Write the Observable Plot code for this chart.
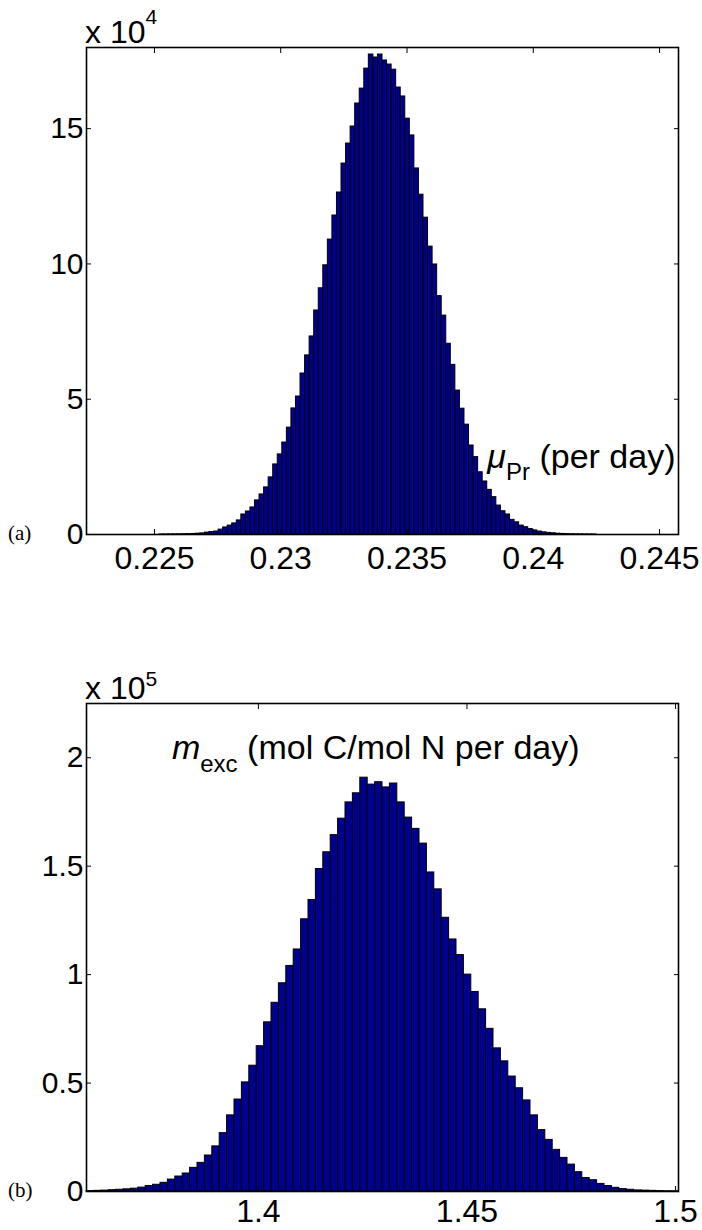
<!DOCTYPE html>
<html>
<head>
<meta charset="utf-8">
<script src="https://cdn.jsdelivr.net/npm/d3@7"></script>
<script src="https://cdn.jsdelivr.net/npm/@observablehq/plot@0.6"></script>
<style>
  html, body { margin: 0; padding: 0; background: #fff; }
  #wrap { position: relative; width: 702px; height: 1230px; overflow: hidden; }
  #wrap svg { position: absolute; left: 0; overflow: visible; }
</style>
</head>
<body>
<div id="wrap"></div>
<script>
// ---------- Data ----------
// Panel (a): mu_Pr (per day), 130 bins spanning the x-range, counts in units of 1e4
const muRange = [0.22231, 0.24575];
const muCounts = [
  0, 0, 0, 0, 0, 0, 0, 0, 0, 0,
  0, 0, 0, 0, 0, 0, 0.001, 0.002, 0.003, 0.005,
  0.007, 0.01, 0.015, 0.02, 0.03, 0.04, 0.07, 0.09, 0.11, 0.18,
  0.26, 0.33, 0.41, 0.52, 0.74, 0.85, 1.00, 1.26, 1.48, 1.74,
  2.11, 2.59, 2.96, 3.40, 3.95, 4.66, 5.10, 5.95, 6.62, 7.32,
  8.28, 9.10, 9.95, 10.9, 11.79, 12.64, 13.71, 14.45, 15.08, 15.93,
  16.48, 17.22, 17.74, 17.63, 17.74, 17.52, 17.37, 17.18, 16.52, 16.19,
  15.37, 14.75, 13.53, 12.56, 11.71, 10.64, 9.98, 8.81, 8.09, 7.05,
  6.27, 5.32, 4.65, 4.06, 3.29, 2.86, 2.30, 1.96, 1.65, 1.38,
  1.07, 0.86, 0.74, 0.54, 0.45, 0.33, 0.27, 0.20, 0.15, 0.11,
  0.08, 0.06, 0.045, 0.03, 0.022, 0.015, 0.01, 0.007, 0.005, 0.003,
  0.002, 0.001, 0, 0, 0, 0, 0, 0, 0, 0,
  0, 0, 0, 0, 0, 0, 0, 0, 0, 0
];
const muXTicks = [0.225, 0.23, 0.235, 0.24, 0.245];
const muYTicks = [0, 5, 10, 15];
const muYMax = 18;
const muExp = "4";

// Panel (b): m_exc (mol C/mol N per day), 80 bins spanning the x-range, counts in units of 1e5
const mRange = [1.3588, 1.5007];
const mCounts = [
  0.002, 0.003, 0.004, 0.006, 0.008, 0.010, 0.013, 0.018, 0.025, 0.031,
  0.040, 0.055, 0.069, 0.083, 0.109, 0.132, 0.166, 0.208, 0.269, 0.351,
  0.424, 0.503, 0.58, 0.67, 0.78, 0.87, 0.96, 1.04, 1.116, 1.255,
  1.344, 1.487, 1.564, 1.643, 1.719, 1.794, 1.836, 1.908, 1.876, 1.887,
  1.863, 1.881, 1.794, 1.724, 1.672, 1.604, 1.471, 1.393, 1.262, 1.162,
  1.09, 1.00, 0.92, 0.84, 0.75, 0.66, 0.60, 0.53, 0.476, 0.42,
  0.351, 0.283, 0.238, 0.192, 0.155, 0.124, 0.089, 0.062, 0.052, 0.035,
  0.025, 0.017, 0.011, 0.008, 0.005, 0.004, 0.003, 0.002, 0.001, 0.001
];
const mXTicks = [1.4, 1.45, 1.5];
const mYTicks = [0, 0.5, 1, 1.5, 2];
const mYMax = 2.25;
const mExp = "5";

// ---------- Helpers ----------
const SANS = "'Liberation Sans', Arial, Helvetica, sans-serif";
const SERIF = "'Liberation Serif', 'DejaVu Serif', serif";
const BAR = "#00008F";

function toBins(range, counts) {
  const w = (range[1] - range[0]) / counts.length;
  return counts.map((c, i) => ({x1: range[0] + i * w, x2: range[0] + (i + 1) * w, y1: 0, y2: c}));
}

function panel({range, counts, xTicks, yTicks, yMax, height, marginTop, marginBottom, xPad = 17}) {
  return Plot.plot({
    width: 702,
    height,
    marginTop,
    marginBottom,
    marginLeft: 86,
    marginRight: 24,
    x: {domain: range},
    y: {domain: [0, yMax]},
    style: {fontFamily: SANS, fontSize: "30px", color: "black", background: "transparent"},
    marks: [
      Plot.rect(toBins(range, counts), {x1: "x1", x2: "x2", y1: "y1", y2: "y2", fill: BAR, stroke: "black", strokeWidth: 1}),
      Plot.axisX({ticks: xTicks, anchor: "bottom", tickSize: -5, tickPadding: xPad, label: null, tickFormat: d => String(d), fontSize: 32}),
      Plot.axisX({ticks: xTicks, anchor: "top", tickSize: -5, label: null, tickFormat: () => ""}),
      Plot.axisY({ticks: yTicks, anchor: "left", tickSize: -5, tickPadding: 8, label: null, tickFormat: d => String(d), fontSize: 30}),
      Plot.axisY({ticks: yTicks, anchor: "right", tickSize: -5, label: null, tickFormat: () => ""}),
      Plot.frame({stroke: "black", strokeWidth: 1.6})
    ]
  });
}

function addText(svg, x, y, parts, anchor = "start") {
  const t = d3.select(svg).append("text")
    .attr("x", x).attr("y", y)
    .attr("text-anchor", anchor)
    .attr("fill", "black");
  for (const p of parts) {
    const s = t.append("tspan").text(p.text)
      .attr("font-family", p.family || SANS)
      .attr("font-size", p.size)
      .attr("font-style", p.italic ? "italic" : "normal");
    if (p.x != null) s.attr("x", p.x);
    if (p.y != null) s.attr("y", p.y);
  }
}

const wrap = document.getElementById("wrap");

// ---------- Panel (a) ----------
const topH = 615;
const chartA = panel({range: muRange, counts: muCounts, xTicks: muXTicks, yTicks: muYTicks, yMax: muYMax,
  height: topH, marginTop: 47, marginBottom: topH - 534});
chartA.style.top = "0px";
wrap.appendChild(chartA);
{
  const sx = chartA.scale("x"), sy = chartA.scale("y");
  addText(chartA, 85, 43, [{text: "x 10", size: 32}, {text: muExp, size: 21, y: 24}]);
  addText(chartA, 8, 540, [{text: "(a)", size: 21, family: SERIF}]);
  const lx = sx.apply(0.2382), ly = sy.apply(2.44);
  addText(chartA, lx, ly, [
    {text: "\u03BC", size: 34, italic: true},
    {text: "Pr", size: 24, y: ly + 12},
    {text: " (per day)", size: 34, y: ly}
  ]);
}

// ---------- Panel (b) ----------
const botTop = 615;
const botH = 1230 - botTop;
const chartB = panel({range: mRange, counts: mCounts, xTicks: mXTicks, yTicks: mYTicks, yMax: mYMax,
  height: botH, marginTop: 703 - botTop, marginBottom: botH - (1191 - botTop), xPad: 13});
chartB.style.top = botTop + "px";
wrap.appendChild(chartB);
{
  const sx = chartB.scale("x"), sy = chartB.scale("y");
  addText(chartB, 85, 699 - botTop, [{text: "x 10", size: 32}, {text: mExp, size: 21, y: 686 - botTop}]);
  addText(chartB, 8, 1197 - botTop, [{text: "(b)", size: 21, family: SERIF}]);
  const lx = sx.apply(1.3794), ly = sy.apply(1.99);
  addText(chartB, lx, ly, [
    {text: "m", size: 34, italic: true},
    {text: "exc", size: 24, y: ly + 13},
    {text: " (mol C/mol N per day)", size: 34, y: ly}
  ]);
}
</script>
</body>
</html>
